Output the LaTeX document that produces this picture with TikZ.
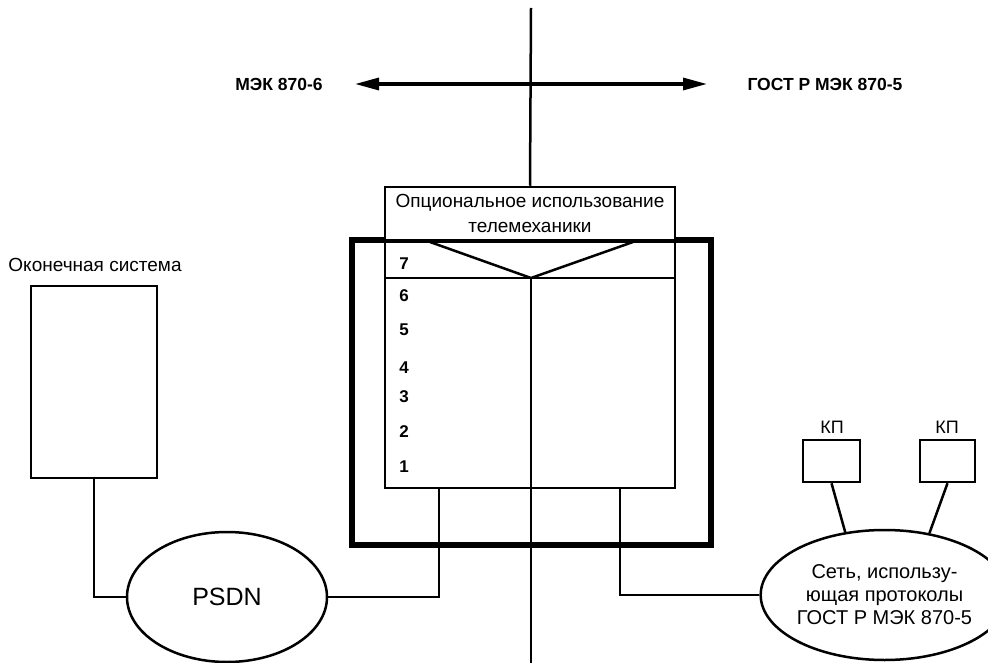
\documentclass[tikz,border=0pt]{standalone}
\usepackage{fontspec}
\setmainfont{Liberation Sans}
\usetikzlibrary{shapes.geometric,arrows.meta}
\begin{document}
\begin{tikzpicture}[x=1pt,y=-1pt,
  ln/.style={line width=2.5pt},
  thick box/.style={draw, line width=5.8pt, inner sep=0pt},
  plainbox/.style={draw, ln, inner sep=0pt},
  oval/.style={draw, ln, ellipse, inner sep=0pt},
  lbl/.style={inner sep=0pt, font=\fontsize{19}{25}\selectfont},
  toplbl/.style={inner sep=0pt, font=\bfseries\fontsize{17.5}{22}\selectfont},
  digit/.style={inner sep=0pt, font=\bfseries\fontsize{17}{20}\selectfont},
  bothtips/.style={{Triangle[length=24pt,width=12pt]}-{Triangle[length=24pt,width=12pt]}}]
\useasboundingbox (0,0) rectangle (988,663);

% axes
\coordinate (vtop) at (531,8);
\coordinate (vbot) at (531,663);
\coordinate (al) at (355,84);
\coordinate (ar) at (707,84);
\draw[line width=3.2pt, bothtips] (al) -- (ar);
\node[toplbl] (mek6) at (279,84) {МЭК 870-6};
\node[toplbl] (gost5) at (825,84) {ГОСТ Р МЭК 870-5};

% central stack
\node[thick box, minimum width=359pt, minimum height=305pt] (outer) at (531.5,392.5) {};
\node[plainbox, minimum width=290pt, minimum height=248pt] (inner) at (530,364) {};
\node[plainbox, fill=white, minimum width=290pt, minimum height=53pt, align=center, lbl] (opt) at (530,213.5) {Опциональное использование\\телемеханики};
\draw[ln] (vtop) -- (opt.north);

\coordinate (r7l) at (385,278);
\coordinate (r7r) at (675,278);
\coordinate (vl) at (430,242);
\coordinate (vm) at (531,278);
\coordinate (vr) at (633,242);
\draw[ln] (r7l) -- (r7r);
\draw[ln] (vl) -- (vm) -- (vr);
\draw[ln] (vm) -- (vbot);

\node[digit] (d7) at (404,264) {7};
\node[digit] (d6) at (404,296) {6};
\node[digit] (d5) at (404,330) {5};
\node[digit] (d4) at (404,368) {4};
\node[digit] (d3) at (404,397) {3};
\node[digit] (d2) at (404,432) {2};
\node[digit] (d1) at (404,467) {1};

% end system
\node[lbl] (eslab) at (95,265) {Оконечная система};
\node[plainbox, minimum width=126pt, minimum height=192pt] (esys) at (94,382) {};

% PSDN
\node[oval, minimum width=200pt, minimum height=130pt, font=\fontsize{25}{30}\selectfont] (psdn) at (227,597) {PSDN};
\coordinate (c1) at (439,488);
\draw[ln] (esys.south) |- (psdn.west);
\draw[ln] (psdn.east) -| (c1);

% network
\node[oval, minimum width=195pt, minimum height=130pt, align=center, font=\fontsize{20}{23}\selectfont] (net) at (884.5,595) {Сеть, использу-\\ющая протоколы\\ГОСТ Р МЭК 870-5};
\coordinate (c2) at (620,488);
\draw[ln] (c2) |- (net.west);

% KP
\node[plainbox, minimum width=57pt, minimum height=42pt] (kp1) at (831.5,461) {};
\node[plainbox, minimum width=55pt, minimum height=42pt] (kp2) at (947.5,461) {};
\node[lbl, font=\fontsize{18}{20}\selectfont] (kp1lab) at (832,427) {КП};
\node[lbl, font=\fontsize{18}{20}\selectfont] (kp2lab) at (947,427) {КП};
\draw[ln] (kp1.south) -- (net.122);
\draw[ln] (kp2.south) -- (net.54);
\end{tikzpicture}
\end{document}
